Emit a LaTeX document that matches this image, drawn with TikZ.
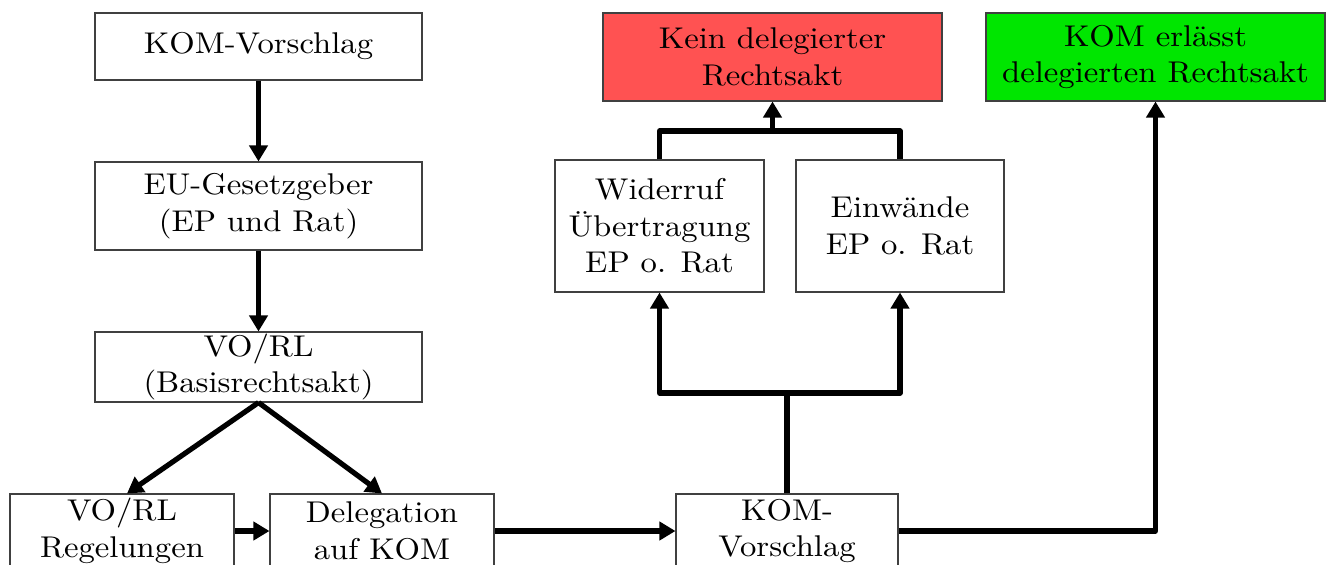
\documentclass[tikz,border=0pt]{standalone}
\usepackage{fontspec}
\setmainfont{lmroman10-regular.otf}[FakeStretch=1.09]
\usetikzlibrary{arrows.meta}
\begin{document}
\begin{tikzpicture}[x=0.75pt,y=-0.75pt,
  box/.style={draw=black!75, line width=0.8pt, align=center, inner sep=0pt,
    font=\fontsize{22.5}{27.5}\selectfont},
  conn/.style={line width=3.9pt, line join=round},
  arr/.style={conn, -{Triangle[length=12pt,width=13.5pt]}},
]
\clip (0,0) rectangle (1330,564);
\fill[white] (0,0) rectangle (1330,564);
\node[box, minimum width=327*0.75pt, minimum height=67*0.75pt] (n1) at (258.5,46.5) {KOM-Vorschlag};
\node[box, minimum width=327*0.75pt, minimum height=88*0.75pt] (n2) at (258.5,206) {EU-Gesetzgeber\\(EP und Rat)};
\node[box, minimum width=327*0.75pt, minimum height=70*0.75pt] (n3) at (258.5,367) {VO/RL\\(Basisrechtsakt)};
\node[box, minimum width=224*0.75pt, minimum height=74*0.75pt] (n4) at (122,531) {VO/RL\\Regelungen};
\node[box, minimum width=224*0.75pt, minimum height=74*0.75pt] (n5) at (382,531) {Delegation\\auf KOM};
\node[box, minimum width=222*0.75pt, minimum height=74*0.75pt] (n6) at (787,531) {KOM-\\Vorschlag};
\node[box, minimum width=209*0.75pt, minimum height=132*0.75pt] (n7) at (659.5,226) {Widerruf\\Übertragung\\EP o. Rat};
\node[box, minimum width=208*0.75pt, minimum height=132*0.75pt] (n8) at (900,226) {Einwände\\EP o. Rat};
\node[box, fill={rgb,255:red,255;green,82;blue,82}, minimum width=339*0.75pt, minimum height=88*0.75pt] (n9) at (772.5,57) {Kein delegierter\\Rechtsakt};
\node[box, fill={rgb,255:red,0;green,230;blue,0}, minimum width=339*0.75pt, minimum height=88*0.75pt] (n10) at (1155.5,57) {KOM erlässt\\delegierten Rechtsakt};
\coordinate (j) at (787,393);
\coordinate (k) at (772.5,131);
\draw[arr] (n1) -- (n2);
\draw[arr] (n2) -- (n3);
\draw[arr] (n3.south) -- ([xshift=5*0.75pt]n4.north);
\draw[arr] (n3.south) -- (n5.north);
\draw[arr] (n4) -- (n5);
\draw[arr] (n5) -- (n6);
\draw[conn] (n6.north) -- (j);
\draw[arr] (j) -| (n7.south);
\draw[arr] (j) -| (n8.south);
\draw[conn] (n7.north) |- (k) -| (n8.north);
\draw[arr] (k) -- (n9.south);
\draw[arr] (n6.east) -| (n10.south);
\end{tikzpicture}
\end{document}
